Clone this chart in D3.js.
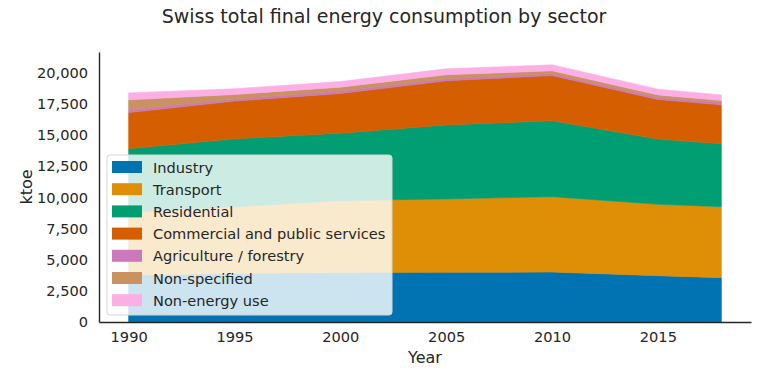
<!DOCTYPE html>
<html>
<head>
<meta charset="utf-8">
<script src="https://cdn.jsdelivr.net/npm/d3@7"></script>
<style>
  body { margin: 0; background: #fff; }
  text { font-family: "DejaVu Sans", sans-serif; fill: #262626; }
</style>
</head>
<body>
<script>
var years = [1990, 1995, 2000, 2005, 2010, 2015, 2018];
var sectors = ['Industry', 'Transport', 'Residential', 'Commercial and public services',
               'Agriculture / forestry', 'Non-specified', 'Non-energy use'];
var industry    = [3780, 3900, 3980, 3990, 4010, 3720, 3560];
var transport   = [5000, 5350, 5760, 5890, 6050, 5730, 5700];
var residential = [5120, 5450, 5420, 5940, 6090, 5230, 5040];
var commercial  = [2910, 3030, 3180, 3540, 3630, 3180, 3130];
var agriculture = [220, 160, 210, 160, 160, 160, 180];
var nonSpecified = [800, 370, 300, 320, 220, 210, 170];
var nonEnergy   = [560, 460, 450, 480, 480, 460, 450];
var yTicks = [0, 2500, 5000, 7500, 10000, 12500, 15000, 17500, 20000];
var xTicks = [1990, 1995, 2000, 2005, 2010, 2015];
var colors = ['#0173b2', '#de8f05', '#029e73', '#d55e00', '#cc78bc', '#ca9161', '#fbafe4'];

var series = [industry, transport, residential, commercial, agriculture, nonSpecified, nonEnergy];
var rows = years.map(function(yr, i) {
    var r = {year: yr};
    sectors.forEach(function(s, k) { r[s] = series[k][i]; });
    return r;
});

var W = 768, H = 384;
var mLeft = 99, mRight = 751, mTop = 52, mBottom = 322;

var svg = d3.select('body').append('svg').attr('width', W).attr('height', H);

var stacked = d3.stack().keys(sectors)(rows);
var maxTotal = d3.max(stacked[stacked.length - 1], function(d) { return d[1]; });

var x = d3.scaleLinear().domain([1988.6, 2019.4]).range([mLeft, mRight]);
var y = d3.scaleLinear().domain([0, maxTotal * 1.05]).range([mBottom, mTop]);

var area = d3.area()
    .x(function(d) { return x(d.data.year); })
    .y0(function(d) { return y(d[0]); })
    .y1(function(d) { return y(d[1]); });

svg.append('g').selectAll('path')
    .data(stacked)
    .enter().append('path')
        .attr('d', area)
        .attr('fill', function(d, i) { return colors[i]; })
        .attr('stroke', function(d, i) { return colors[i]; })
        .attr('stroke-width', 0.6);

// axes
var yAxis = svg.append('g').attr('transform', 'translate(' + mLeft + ',0)')
    .call(d3.axisLeft(y).tickValues(yTicks).tickSize(0).tickPadding(11).tickFormat(d3.format(',')));
var xAxis = svg.append('g').attr('transform', 'translate(0,' + mBottom + ')')
    .call(d3.axisBottom(x).tickValues(xTicks).tickSize(0).tickPadding(10).tickFormat(d3.format('d')));
[yAxis, xAxis].forEach(function(a) {
    a.select('.domain').attr('stroke', '#262626').attr('stroke-width', 1.4);
    a.selectAll('text').attr('font-size', 14.6).attr('fill', '#262626')
        .attr('font-family', '"DejaVu Sans", sans-serif');
});

svg.append('text').attr('x', W / 2).attr('y', 23).attr('text-anchor', 'middle')
    .attr('font-size', 19).text('Swiss total final energy consumption by sector');
svg.append('text').attr('x', (mLeft + mRight) / 2).attr('y', 363).attr('text-anchor', 'middle')
    .attr('font-size', 16).text('Year');
svg.append('text').attr('transform', 'translate(32,' + ((mTop + mBottom) / 2) + ') rotate(-90)')
    .attr('text-anchor', 'middle').attr('font-size', 16).text('ktoe');

// legend
var legend = svg.append('g').attr('transform', 'translate(107,155)');
legend.append('rect').attr('width', 285).attr('height', 160).attr('rx', 3)
    .attr('fill', 'rgba(255,255,255,0.8)').attr('stroke', '#d6d6d6').attr('stroke-width', 1);
var item = legend.selectAll('g.item').data(sectors).enter().append('g')
    .attr('class', 'item')
    .attr('transform', function(d, i) { return 'translate(0,' + (12 + i * 22.2) + ')'; });
item.append('rect').attr('x', 5).attr('y', -6).attr('width', 30).attr('height', 12)
    .attr('fill', function(d, i) { return colors[i]; });
item.append('text').attr('x', 46).attr('y', 5.5).attr('font-size', 14.6).text(function(d) { return d; });
</script>
</body>
</html>
